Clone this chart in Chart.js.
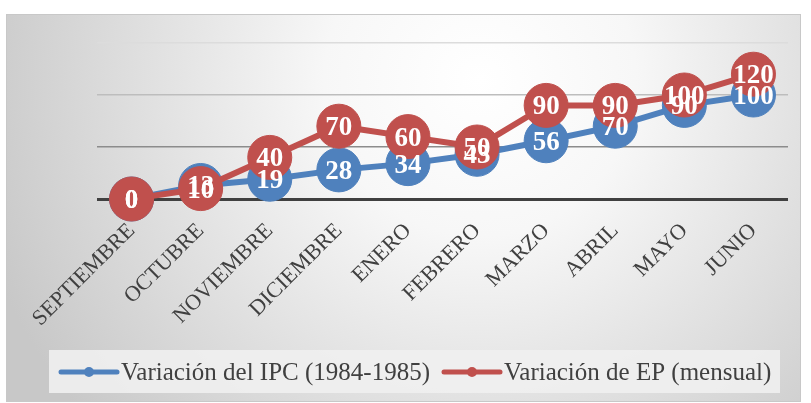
<!DOCTYPE html>
<html>
<head>
<meta charset="utf-8">
<script src="https://cdn.jsdelivr.net/npm/chart.js@4"></script>
<style>
  body { margin: 0; background: #fff; }
  #wrap { width: 811px; height: 403px; position: relative; }
</style>
</head>
<body>
<div id="wrap"><canvas id="grafico"></canvas></div>
<script>
// ===== datos =====
const meses = ["SEPTIEMBRE", "OCTUBRE", "NOVIEMBRE", "DICIEMBRE", "ENERO", "FEBRERO", "MARZO", "ABRIL", "MAYO", "JUNIO"];
const variacionIPC = [0, 13, 19, 28, 34, 43, 56, 70, 90, 100];
const variacionEP = [0, 10, 40, 70, 60, 50, 90, 90, 100, 120];
const nombresSeries = ["Variación del IPC (1984-1985)", "Variación de EP (mensual)"];
const coloresSeries = ["#4f81bd", "#c0504d"];
const ejeY = { min: 0, max: 150, paso: 50 };

const fuente = "'Liberation Serif', 'DejaVu Serif', serif";

// fondo con degradado radial
const fondo = {
  id: "fondo",
  beforeDraw(chart) {
    const ctx = chart.ctx;
    ctx.save();
    ctx.fillStyle = "#fff";
    ctx.fillRect(0, 0, chart.width, chart.height);
    const g = ctx.createRadialGradient(480, 80, 0, 480, 80, 520);
    g.addColorStop(0, "#ffffff");
    g.addColorStop(0.3, "#f7f7f7");
    g.addColorStop(1, "#c8c8c8");
    ctx.fillStyle = g;
    ctx.fillRect(6, 14, 794, 387);
    ctx.strokeStyle = "#c8c8c8";
    ctx.lineWidth = 1;
    ctx.strokeRect(6.5, 14.5, 794, 387);
    ctx.restore();
  }
};

// etiquetas de valores sobre los puntos
const etiquetas = {
  id: "etiquetas",
  afterDatasetsDraw(chart) {
    const ctx = chart.ctx;
    ctx.save();
    ctx.font = "bold 27px " + fuente;
    ctx.fillStyle = "#fff";
    ctx.textAlign = "center";
    ctx.textBaseline = "middle";
    [1, 0].forEach(i => {
      const meta = chart.getDatasetMeta(i);
      meta.data.forEach((p, j) => {
        ctx.fillText(chart.data.datasets[i].data[j], p.x, p.y + 2);
      });
    });
    ctx.restore();
  }
};

// leyenda dibujada a mano (linea + punto como en Excel)
const leyenda = {
  id: "leyenda",
  afterDraw(chart) {
    const ctx = chart.ctx;
    ctx.save();
    ctx.fillStyle = "rgba(240,240,240,0.9)";
    ctx.fillRect(49, 350, 731, 43);
    const inicios = [61, 444];
    ctx.font = "25px " + fuente;
    ctx.textBaseline = "middle";
    nombresSeries.forEach((nombre, i) => {
      const x = inicios[i];
      ctx.strokeStyle = coloresSeries[i];
      ctx.lineWidth = 5;
      ctx.lineCap = "round";
      ctx.beginPath();
      ctx.moveTo(x, 372);
      ctx.lineTo(x + 56, 372);
      ctx.stroke();
      ctx.fillStyle = coloresSeries[i];
      ctx.beginPath();
      ctx.arc(x + 28, 372, 5, 0, Math.PI * 2);
      ctx.fill();
      ctx.fillStyle = "#404040";
      ctx.fillText(nombre, x + 60, 373);
    });
    ctx.restore();
  }
};

function colorGrilla(ctx) {
  const v = ctx.tick && ctx.tick.value;
  if (v === 0) return "#404040";
  if (v === 50) return "#8c8c8c";
  if (v === 100) return "#bdbdbd";
  return "#dcdcdc";
}

new Chart(document.getElementById("grafico"), {
  type: "line",
  data: {
    labels: meses,
    datasets: [
      {
        label: nombresSeries[0],
        data: variacionIPC,
        borderColor: coloresSeries[0],
        backgroundColor: coloresSeries[0],
        borderWidth: 6,
        pointRadius: 22,
        pointHoverRadius: 22,
        pointBorderWidth: 1,
        clip: false,
        order: 2
      },
      {
        label: nombresSeries[1],
        data: variacionEP,
        borderColor: coloresSeries[1],
        backgroundColor: coloresSeries[1],
        borderWidth: 6,
        pointRadius: 22,
        pointHoverRadius: 22,
        pointBorderWidth: 1,
        clip: false,
        order: 1
      }
    ]
  },
  options: {
    responsive: true,
    maintainAspectRatio: false,
    animation: false,
    layout: { padding: { left: 97, right: 20, top: 43, bottom: 64 } },
    plugins: {
      legend: { display: false },
      tooltip: { enabled: false }
    },
    scales: {
      x: {
        offset: true,
        grid: { display: false },
        border: { display: false },
        ticks: {
          minRotation: 45,
          maxRotation: 45,
          padding: 11,
          color: "#404040",
          font: { family: fuente, size: 22 }
        },
        afterFit(scale) { scale.height = 140; }
      },
      y: {
        min: ejeY.min,
        max: ejeY.max,
        ticks: { display: false, stepSize: ejeY.paso },
        border: { display: false },
        grid: {
          drawTicks: false,
          color: colorGrilla,
          lineWidth: ctx => (ctx.tick && ctx.tick.value === 0 ? 3 : 1.5)
        },
        afterFit(scale) { scale.width = 0; }
      }
    }
  },
  plugins: [fondo, etiquetas, leyenda]
});
</script>
</body>
</html>
